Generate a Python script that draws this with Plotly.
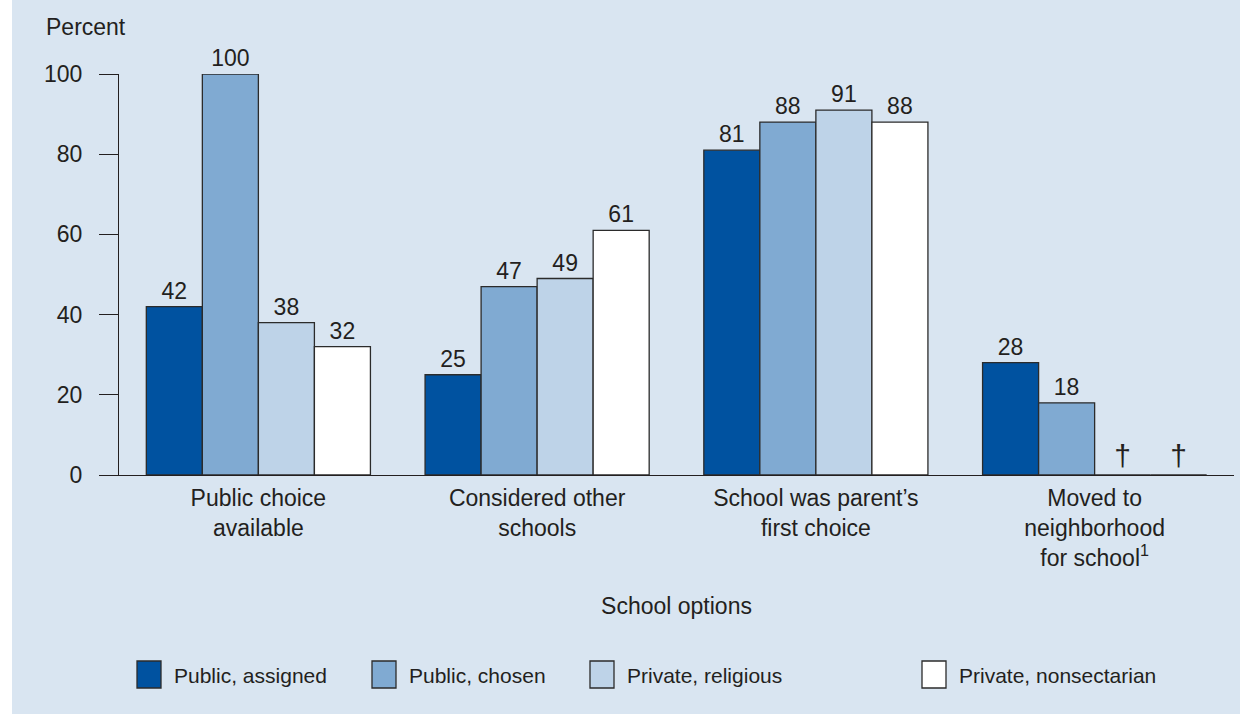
import plotly.graph_objects as go

# School option categories (x axis) and the four school types (series)
categories = [
    "Public choice<br>available",
    "Considered other<br>schools",
    "School was parent’s<br>first choice",
    "Moved to<br>neighborhood<br>for school<sup>1</sup>",
]
series_names = ["Public, assigned", "Public, chosen", "Private, religious", "Private, nonsectarian"]
public_assigned = [42, 25, 81, 28]
public_chosen = [100, 47, 88, 18]
private_religious = [38, 49, 91, None]      # None = not applicable (†)
private_nonsectarian = [32, 61, 88, None]
y_ticks = [0, 20, 40, 60, 80, 100]

series_values = [public_assigned, public_chosen, private_religious, private_nonsectarian]
colors = ["#0052A0", "#80AAD2", "#BED3E8", "#FFFFFF"]

FONT = "Liberation Sans, Arial, sans-serif"
TXT = "#231F20"
BG = "#D9E5F1"

W, H = 1240, 714
L, R, T, B = 119, 6, 74, 239
PW, PH = W - L - R, H - T - B


def px_x(px):
    return (px - L) / PW


def px_y(py):
    return (H - B - py) / PH


fig = go.Figure()
for name, vals, col in zip(series_names, series_values, colors):
    fig.add_trace(go.Bar(
        x=categories,
        y=[v if v is not None else 0 for v in vals],
        text=[str(v) if v is not None else "†" for v in vals],
        textposition="outside",
        cliponaxis=False,
        textfont=dict(family=FONT,
                      size=[23 if v is not None else 30 for v in vals],
                      color=TXT),
        marker=dict(color=col, line=dict(color="#2B2B2B", width=1.3)),
        name=name,
        showlegend=False,
    ))

shapes = [dict(type="rect", xref="paper", yref="paper", layer="below",
               x0=px_x(12), x1=px_x(W), y0=px_y(H), y1=px_y(0),
               fillcolor=BG, line=dict(width=0))]
annotations = [dict(text="Percent", xref="paper", yref="paper",
                    x=px_x(44), y=px_y(27), xanchor="left", yanchor="middle",
                    showarrow=False, font=dict(family=FONT, size=23, color=TXT))]

# Legend: swatch squares and labels along the bottom
legend_x = [137, 372, 590, 922]
for name, col, lx in zip(series_names, colors, legend_x):
    shapes.append(dict(type="rect", xref="paper", yref="paper",
                       x0=px_x(lx), x1=px_x(lx + 24), y0=px_y(688), y1=px_y(661),
                       fillcolor=col, line=dict(color="#2B2B2B", width=1.3)))
    annotations.append(dict(text=name, xref="paper", yref="paper",
                            x=px_x(lx + 35), y=px_y(675), xanchor="left", yanchor="middle",
                            showarrow=False, font=dict(family=FONT, size=21, color=TXT)))

fig.update_layout(
    width=W, height=H,
    margin=dict(l=L, r=R, t=T, b=B),
    paper_bgcolor="white",
    plot_bgcolor="rgba(0,0,0,0)",
    barmode="group",
    bargap=0.196,
    bargroupgap=0,
    font=dict(family=FONT, size=23, color=TXT),
    shapes=shapes,
    annotations=annotations,
    showlegend=False,
)
fig.update_xaxes(
    showline=True, linecolor="#231F20", linewidth=1.3,
    showgrid=False, ticks="", range=[-0.5, 3.5],
    tickfont=dict(family=FONT, size=23, color=TXT),
    ticklabelstandoff=2,
    title=dict(text="School options", font=dict(family=FONT, size=23, color=TXT), standoff=28),
)
fig.update_yaxes(
    range=[0, 100], tickvals=y_ticks,
    showline=True, linecolor="#231F20", linewidth=1.3,
    showgrid=False, zeroline=False,
    ticks="outside", ticklen=19, tickcolor="#231F20", tickwidth=1.3,
    tickfont=dict(family=FONT, size=23, color=TXT),
    ticklabelstandoff=12,
)

fig.write_html("out.html")
